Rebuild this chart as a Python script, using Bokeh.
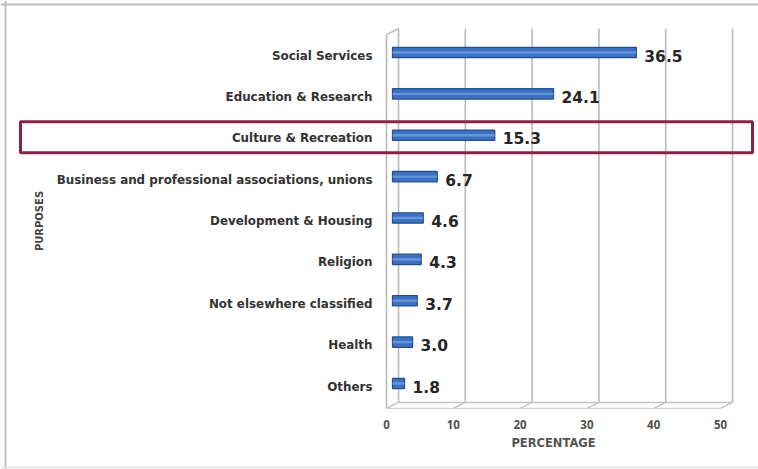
import math
from bokeh.plotting import figure
from bokeh.models import BoxAnnotation, ColumnDataSource, Span
from bokeh.core.properties import value
from bokeh.embed import file_html
from bokeh.resources import INLINE

# ---- data ----
categories = ["Social Services", "Education & Research", "Culture & Recreation",
              "Business and professional associations, unions", "Development & Housing",
              "Religion", "Not elsewhere classified", "Health", "Others"]
percentages = [36.5, 24.1, 15.3, 6.7, 4.6, 4.3, 3.7, 3.0, 1.8]
value_labels = ["36.5", "24.1", "15.3", "6.7", "4.6", "4.3", "3.7", "3.0", "1.8"]
x_ticks = [0, 10, 20, 30, 40, 50]
x_tick_labels = ["0", "10", "20", "30", "40", "50"]
highlight = "Culture & Recreation"
x_title = "PERCENTAGE"
y_title = "PURPOSES"

n = len(categories)
ypos = [n - 1 - i for i in range(n)]  # top category highest

W, H = 758, 469
X0_PX, XS = 386, 6.68  # pixel of x=0, px per unit
Y0_PX, YS = 386, 41.375
x_start = -X0_PX / XS
x_end = (W - X0_PX) / XS
y_end = (Y0_PX - 0) / YS
y_start = -(H - Y0_PX) / YS

# 3D depth offsets (style)
DX = 1.8
DY = 0.145
FLOOR_F = -0.53
FLOOR_B = FLOOR_F + DY
TOP_B = 8.65
TOP_F = TOP_B - DY

p = figure(width=W, height=H, output_backend="svg", toolbar_location=None,
           x_range=(x_start, x_end), y_range=(y_start, y_end),
           x_axis_location=None, y_axis_location=None,
           min_border=0)
p.outline_line_color = None
p.grid.visible = False
p.background_fill_color = "white"
p.border_fill_color = "white"

WALL = "#bababa"
# back-wall gridlines
p.segment(x0=[t + DX for t in x_ticks], y0=[FLOOR_B] * len(x_ticks),
          x1=[t + DX for t in x_ticks], y1=[TOP_B] * len(x_ticks),
          line_color=WALL, line_width=1.6)
# left wall front edge and top
p.segment(x0=[0], y0=[FLOOR_F], x1=[0], y1=[TOP_F], line_color=WALL, line_width=1.6)
p.segment(x0=[0], y0=[TOP_F], x1=[DX], y1=[TOP_B], line_color=WALL, line_width=1.6)
# floor
p.segment(x0=[x_ticks[0] + DX], y0=[FLOOR_B], x1=[x_ticks[-1] + DX], y1=[FLOOR_B],
          line_color="#c4c4c4", line_width=1.4)
p.segment(x0=[x_ticks[0]], y0=[FLOOR_F], x1=[x_ticks[-1]], y1=[FLOOR_F],
          line_color="#d2d2d2", line_width=1.2)
p.segment(x0=x_ticks, y0=[FLOOR_F] * len(x_ticks),
          x1=[t + DX for t in x_ticks], y1=[FLOOR_B] * len(x_ticks),
          line_color="#c4c4c4", line_width=1.4)

# bars (at mid depth)
src = ColumnDataSource(dict(
    y=[y + DY / 2 for y in ypos],
    left=[DX / 2] * n,
    right=[v + DX / 2 for v in percentages],
    ytxt=ypos,
    lab=value_labels,
    cat=categories,
    zero=[0] * n,
))
p.hbar(y="y", left="left", right="right", height=0.25, source=src,
       fill_color="#3d70c2", line_color="#22508f", line_width=1.3)
p.hbar(y="y", left="left", right="right", height=0.06, source=src,
       fill_color="#86ace6", line_color=None, fill_alpha=0.6)

# value labels
p.text(x="right", y="ytxt", text="lab", source=src, x_offset=8,
       text_font=value("DejaVu Sans"), text_font_style="bold", text_font_size="15.5px",
       text_color="#262626", text_baseline="middle", text_align="left")

# category labels (left of the wall)
p.text(x="zero", y="ytxt", text="cat", source=src, x_offset=-14,
       text_font=value("DejaVu Sans"), text_font_style="bold", text_font_size="11.9px",
       text_color="#333333", text_baseline="middle", text_align="right")

# y title
p.text(x=[(39 - X0_PX) / XS], y=[ypos[n // 2]], text=[y_title], angle=math.pi / 2,
       text_font=value("DejaVu Sans"), text_font_style="bold", text_font_size="10px",
       text_color="#444444", text_baseline="middle", text_align="center")

# x tick labels under the floor
p.text(x=x_ticks, y=[FLOOR_F] * len(x_ticks), text=x_tick_labels, y_offset=16,
       text_font=value("Open Sans"), text_font_style="bold", text_font_size="11.5px",
       text_color="#505050", text_baseline="middle", text_align="center")

# x title
p.text(x=[(x_ticks[0] + x_ticks[-1]) / 2], y=[FLOOR_F], text=[x_title], y_offset=35,
       text_font=value("DejaVu Sans"), text_font_style="bold", text_font_size="11.5px",
       text_color="#555555", text_baseline="middle", text_align="center")

# highlight box
hi = ypos[categories.index(highlight)]
p.add_layout(BoxAnnotation(left=20, right=752, left_units="canvas", right_units="canvas",
                           top=hi + 0.4, bottom=hi - 0.35,
                           fill_color=None, fill_alpha=0, line_color="#8a2444",
                           line_alpha=1.0, line_width=3))
# outer picture border: left, top and faint bottom edges
p.add_layout(Span(location=x_start + 5 / XS, dimension="height",
                  line_color="#c0c0c0", line_width=2))
p.add_layout(Span(location=y_end - 4 / YS, dimension="width",
                  line_color="#c0c0c0", line_width=2))
p.add_layout(Span(location=y_end - 467 / YS, dimension="width",
                  line_color="#e4e4e4", line_width=1.5))

open("out.html", "w").write(file_html(p, INLINE))
